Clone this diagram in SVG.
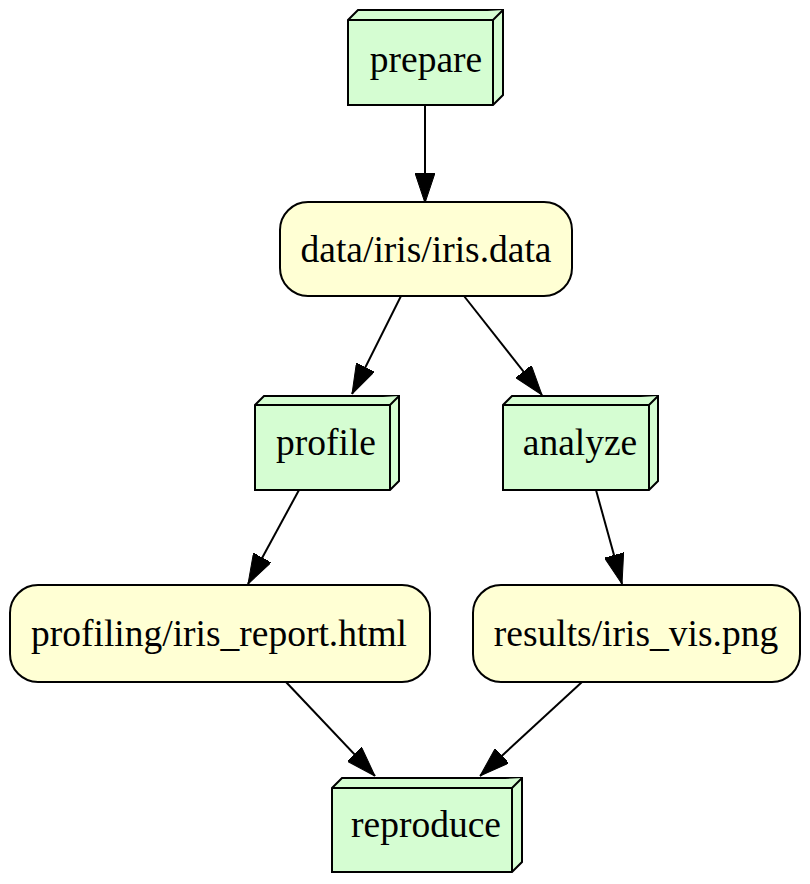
<svg xmlns="http://www.w3.org/2000/svg" width="810" height="884" viewBox="0 0 810 884">
<style>
.step{fill:#d5fdd2;stroke:#000;stroke-width:2;stroke-linejoin:miter}
.file{fill:#ffffd4;stroke:#000;stroke-width:2}
.lbl{font-family:"Liberation Serif","Times New Roman",serif;font-size:37.5px;fill:#000;text-anchor:middle}
.edge{fill:none;stroke:#000;stroke-width:2}
</style>
<defs>
<marker id="ah" viewBox="0 0 30 20" refX="30" refY="10" markerWidth="30" markerHeight="20" markerUnits="userSpaceOnUse" orient="auto">
<polygon points="0,0 30,10 0,20" fill="#000" stroke="#000" stroke-width="1"/>
</marker>
</defs>
<g id="edges">
<line class="edge" x1="425" y1="105" x2="425" y2="203" marker-end="url(#ah)"/>
<line class="edge" x1="401" y1="296" x2="352" y2="394" marker-end="url(#ah)"/>
<line class="edge" x1="464" y1="296" x2="542" y2="395" marker-end="url(#ah)"/>
<line class="edge" x1="299" y1="490" x2="248" y2="584" marker-end="url(#ah)"/>
<line class="edge" x1="596" y1="490" x2="622" y2="584" marker-end="url(#ah)"/>
<line class="edge" x1="286" y1="682" x2="375" y2="776" marker-end="url(#ah)"/>
<line class="edge" x1="582" y1="682" x2="480" y2="776" marker-end="url(#ah)"/>
</g>
<g id="prepare">
<path class="step" d="M348,20 L358,10 L503,10 L503,95 L493,105 L348,105 Z"/>
<path class="step" fill="none" d="M348,20 L493,20 L503,10 M493,20 L493,105"/>
<text class="lbl" x="426" y="72">prepare</text>
</g>
<g id="data">
<rect class="file" x="280" y="202" width="292" height="94" rx="28" ry="28"/>
<text class="lbl" x="426" y="262">data/iris/iris.data</text>
</g>
<g id="profile">
<path class="step" d="M255,405 L264,396 L399,396 L399,481 L390,490 L255,490 Z"/>
<path class="step" fill="none" d="M255,405 L390,405 L399,396 M390,405 L390,490"/>
<text class="lbl" x="326" y="455">profile</text>
</g>
<g id="analyze">
<path class="step" d="M503,405 L512,396 L658,396 L658,481 L649,490 L503,490 Z"/>
<path class="step" fill="none" d="M503,405 L649,405 L658,396 M649,405 L649,490"/>
<text class="lbl" x="580" y="455">analyze</text>
</g>
<g id="profiling">
<rect class="file" x="10" y="585" width="420" height="97" rx="28" ry="28"/>
<text class="lbl" x="219" y="646">profiling/iris_report.html</text>
</g>
<g id="results">
<rect class="file" x="473" y="585" width="327" height="97" rx="28" ry="28"/>
<text class="lbl" x="636" y="646">results/iris_vis.png</text>
</g>
<g id="reproduce">
<path class="step" d="M332,788 L342,778 L522,778 L522,862 L512,872 L332,872 Z"/>
<path class="step" fill="none" d="M332,788 L512,788 L522,778 M512,788 L512,872"/>
<text class="lbl" x="426" y="837">reproduce</text>
</g>
</svg>
